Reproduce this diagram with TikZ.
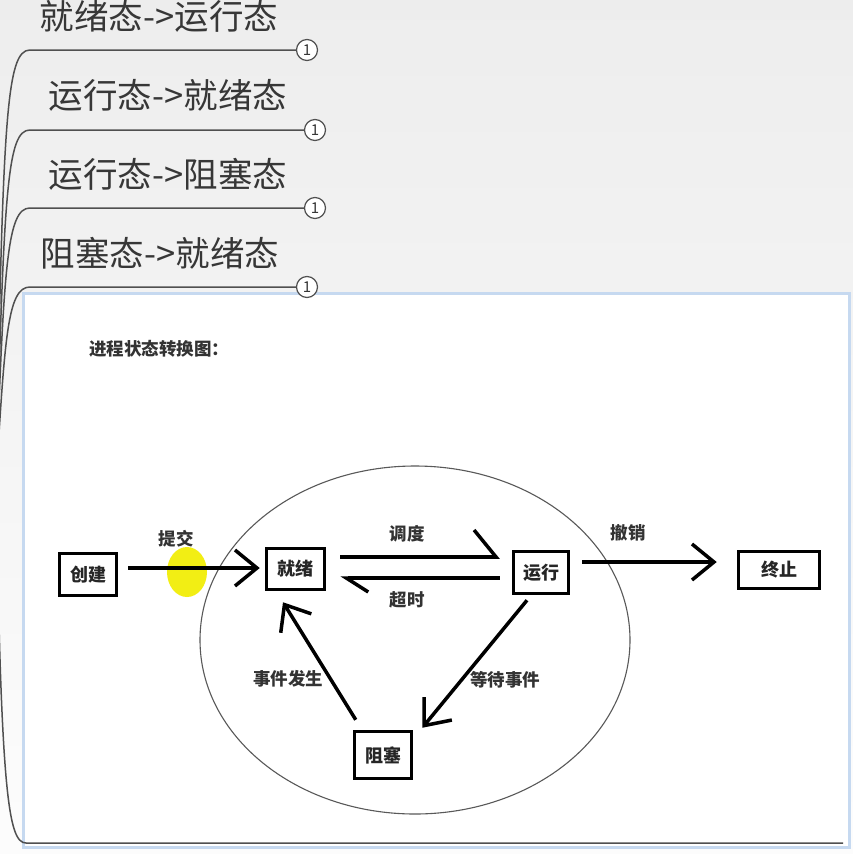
\documentclass[tikz,border=0pt]{standalone}
\usepackage{fontspec}
\setmainfont{Noto Sans CJK SC}
\usetikzlibrary{arrows.meta,calc,shapes.geometric}
\definecolor{mmtext}{RGB}{55,55,55}
\definecolor{mmline}{RGB}{80,80,80}
\definecolor{boxblue}{RGB}{198,217,240}
\definecolor{hl}{RGB}{242,238,20}
\begin{document}
\begin{tikzpicture}[x=1pt,y=-1pt,
  mmtext/.style={font=\fontsize{34.5}{40}\selectfont, text=mmtext, inner sep=0pt},
  mmline/.style={draw=mmline, line width=1.5pt},
  num/.style={circle, draw=mmline, line width=1.2pt, fill=white, minimum size=21pt, inner sep=0pt, font=\fontsize{15}{15}\selectfont, text=mmtext},
  state/.style={draw=black, line width=3.5pt, fill=white, inner sep=0pt, font=\bfseries\fontsize{18}{18}\selectfont, text=black!85},
  lbl/.style={inner sep=0pt, font=\bfseries\fontsize{17.5}{17.5}\selectfont, text=black!80},
  arr/.style={line width=3.5pt, -{Straight Barb[length=22pt,width=36pt]}},
  harpup/.style={line width=3.5pt, -{Straight Barb[left,length=22pt,width=54pt]}},
  harpdown/.style={line width=3.5pt, -{Straight Barb[left,length=22pt,width=28pt]}}
]
\useasboundingbox (0,0) rectangle (853,854);
\shade[top color=gray!14, bottom color=gray!2] (0,0) rectangle (853,854);

% embedded image frame
\node[draw=boxblue, fill=white, line width=2.5pt, minimum width=826pt, minimum height=554pt, anchor=north west, inner sep=0pt] (img) at (22,292) {};

% mind-map branches
\coordinate (root) at (-4,480);
\node[mmtext] (t1) at (159,16) {就绪态->运行态};
\node[mmtext] (t2) at (168,95) {运行态->就绪态};
\node[mmtext] (t3) at (168,174) {运行态->阻塞态};
\node[mmtext] (t4) at (160,253) {阻塞态->就绪态};

\node[num] (n1) at (307,50) {1};
\node[num] (n2) at (315,130) {1};
\node[num] (n3) at (315,208) {1};
\node[num] (n4) at (307,287) {1};

\coordinate (k1) at (30,50);
\coordinate (k2) at (30,130);
\coordinate (k3) at (30,208);
\coordinate (k4) at (30,287);
\coordinate (k5) at (26,843);
\coordinate (e5) at (843,843);

\draw[mmline] (root) .. controls (3,120) and (6,50) .. (k1) -- (n1.west);
\draw[mmline] (root) .. controls (4,190) and (7,130) .. (k2) -- (n2.west);
\draw[mmline] (root) .. controls (4,265) and (7,208) .. (k3) -- (n3.west);
\draw[mmline] (root) .. controls (5,340) and (7,287) .. (k4) -- (n4.west);
\draw[mmline] (root) .. controls (1,790) and (8,843) .. (k5) -- (e5);

% diagram
\node[lbl, anchor=west] (title) at (89,349) {进程状态转换图：};

\node[ellipse, draw=black!65, line width=1.1pt, minimum width=430pt, minimum height=348pt, inner sep=0pt] (cyc) at (415,640) {};

\fill[hl] (187,572) ellipse [x radius=20, y radius=25];

\node[state, minimum width=57pt, minimum height=42pt] (cj) at (88,574.5) {创建};
\node[state, minimum width=58pt, minimum height=41pt] (jx) at (295.5,569) {就绪};
\node[state, minimum width=55pt, minimum height=42pt] (yx) at (541,572.5) {运行};
\node[state, minimum width=81pt, minimum height=37pt] (zz) at (779,570) {终止};
\node[state, minimum width=57pt, minimum height=47pt] (zs) at (383,755) {阻塞};

\draw[arr] ($(cj.east)+(10,-6.5)$) -- ($(jx.west)+(-5,-1)$);
\draw[harpup] ($(jx.east)+(14,-12)$) -- ($(yx.west)+(-12,-15.5)$);
\draw[harpdown] ($(yx.west)+(-12,5.5)$) -- ($(jx.east)+(14,9)$);
\draw[arr] ($(yx.east)+(12,-10.5)$) -- ($(zz.west)+(-20,-8)$);
\draw[arr] ($(yx.south)+(-14,5)$) -- ($(zs.north east)+(9,-2)$);
\draw[arr] ($(zs.north west)+(3,-10)$) -- ($(jx.south)+(-12.5,11)$);

\node[lbl] (l1) at (176,539) {提交};
\node[lbl] (l2) at (407,534) {调度};
\node[lbl] (l3) at (407,600) {超时};
\node[lbl] (l4) at (628,533) {撤销};
\node[lbl] (l5) at (505,680) {等待事件};
\node[lbl] (l6) at (288,679) {事件发生};
\end{tikzpicture}
\end{document}
